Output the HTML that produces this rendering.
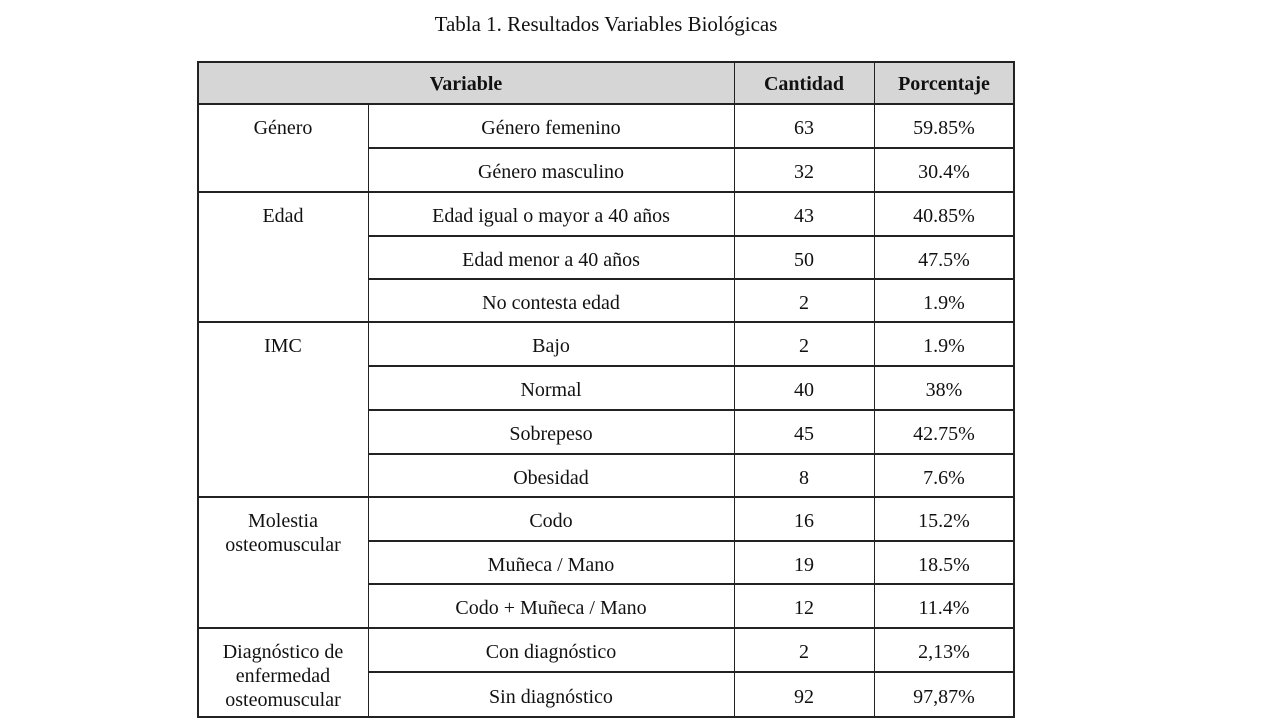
<!DOCTYPE html>
<html><head><meta charset="utf-8"><style>
body{margin:0;width:1280px;height:720px;background:#fff;position:relative;overflow:hidden;font-family:"Liberation Serif",serif;color:#111}
.t{position:absolute;font-size:20px;text-align:center;line-height:24px}
.l{position:absolute;background:#222}
</style></head><body>
<div class="t" style="left:0;width:1212px;top:12px;font-size:21px">Tabla 1. Resultados Variables Biológicas</div>
<div style="position:absolute;left:198px;top:62px;width:816px;height:42px;background:#d6d6d6"></div>
<div id="tbl"></div>
<script>
const rowsY=[62,104,148,192,236,279,322,366,410,454,497,541,584,628,672,717];
const cols=[198,368,734,874,1014];
const subs=["Género femenino","Género masculino","Edad igual o mayor a 40 años","Edad menor a 40 años","No contesta edad","Bajo","Normal","Sobrepeso","Obesidad","Codo","Muñeca / Mano","Codo + Muñeca / Mano","Con diagnóstico","Sin diagnóstico"];
const cantidad=["63","32","43","50","2","2","40","45","8","16","19","12","2","92"];
const porcentaje=["59.85%","30.4%","40.85%","47.5%","1.9%","1.9%","38%","42.75%","7.6%","15.2%","18.5%","11.4%","2,13%","97,87%"];
const groups=[["Género",0,2],["Edad",2,5],["IMC",5,9],["Molestia<br>osteomuscular",9,12],["Diagnóstico de<br>enfermedad<br>osteomuscular",12,14]];
const T=document.getElementById('tbl');
function line(x,y,w,h){const d=document.createElement('div');d.className='l';d.style.cssText=`left:${x}px;top:${y}px;width:${w}px;height:${h}px`;


T.appendChild(d);}
function txt(s,x,w,y,bold){const d=document.createElement('div');d.className='t';d.innerHTML=s;d.style.left=x+'px';d.style.width=w+'px';d.style.top=y+'px';if(bold)d.style.fontWeight='bold';


T.appendChild(d);}
txt("Variable",cols[0],cols[2]-cols[0],72,true);
txt("Cantidad",cols[2],cols[3]-cols[2],72,true);
txt("Porcentaje",cols[3],cols[4]-cols[3],72,true);
subs.forEach((s,i)=>{const y=rowsY[i+1];const h=rowsY[i+2]-y;const ty=y+(h-24)/2+2;
txt(s,cols[1],cols[2]-cols[1],ty);txt(cantidad[i],cols[2],cols[3]-cols[2],ty);txt(porcentaje[i],cols[3],cols[4]-cols[3],ty);
line(cols[1],rowsY[i+2]-1,cols[4]-cols[1],1.5);});
groups.forEach(g=>{const y=rowsY[g[1]+1];txt(g[0],cols[0],cols[1]-cols[0],y+12);line(cols[0],rowsY[g[2]+1]-1,cols[4]-cols[0],1.5);});
line(cols[0]-1,rowsY[0]-1,cols[4]-cols[0]+2,2);
line(cols[0],rowsY[1]-1,cols[4]-cols[0],1.5);
line(cols[0]-1,rowsY[0],2,rowsY[15]-rowsY[0]+1);
line(cols[4]-1,rowsY[0],2,rowsY[15]-rowsY[0]+1);
line(cols[1]-0.5,rowsY[1],1.5,rowsY[15]-rowsY[1]);
line(cols[2]-0.5,rowsY[0],1.5,rowsY[15]-rowsY[0]);
line(cols[3]-0.5,rowsY[0],1.5,rowsY[15]-rowsY[0]);
</script>
</body></html>
